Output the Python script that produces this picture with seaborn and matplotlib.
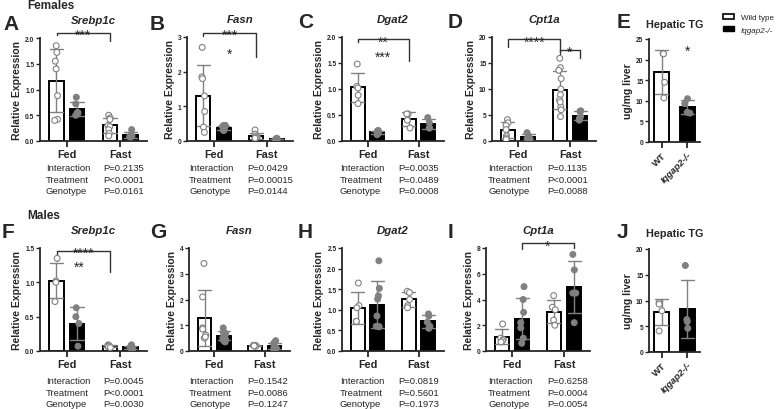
import numpy as np
import pandas as pd
import matplotlib
matplotlib.use("Agg")
import matplotlib.pyplot as plt
from matplotlib.patches import Patch
import seaborn as sns

# ---- Females: relative expression, individual animals ----
srebp_f_fed_wt = [1.85, 1.72, 1.55, 1.40, 0.88, 0.42, 0.40]
srebp_f_fed_ko = [0.85, 0.72, 0.55, 0.50, 0.52, 0.55]
srebp_f_fast_wt = [0.50, 0.45, 0.42, 0.30, 0.28, 0.22, 0.15, 0.10]
srebp_f_fast_ko = [0.22, 0.12, 0.08, 0.08, 0.10]

fasn_f_fed_wt = [2.70, 1.85, 1.80, 1.30, 0.85, 0.40, 0.25]
fasn_f_fed_ko = [0.45, 0.45, 0.42, 0.40, 0.38, 0.35, 0.32, 0.30, 0.33]
fasn_f_fast_wt = [0.32, 0.20, 0.15, 0.12, 0.10, 0.08, 0.08]
fasn_f_fast_ko = [0.08, 0.06, 0.05, 0.04, 0.03]

dgat2_f_fed_wt = [1.48, 1.05, 1.02, 0.88, 0.72]
dgat2_f_fed_ko = [0.20, 0.18, 0.15, 0.12, 0.20, 0.17]
dgat2_f_fast_wt = [0.52, 0.52, 0.40, 0.25]
dgat2_f_fast_ko = [0.45, 0.35, 0.25, 0.25]

cpt1a_f_fed_wt = [4.1, 3.5, 3.0, 2.2, 1.0, 0.6, 0.3]
cpt1a_f_fed_ko = [1.6, 1.0, 0.5, 0.4, 0.3]
cpt1a_f_fast_wt = [15.9, 14.1, 13.6, 12.0, 10.0, 8.9, 7.9, 6.6, 4.7, 7.5, 6.0]
cpt1a_f_fast_ko = [5.8, 5.7, 4.7, 4.0, 4.3]

tg_f_wt = [21.5, 21.4, 14.5, 10.7]
tg_f_ko = [10.5, 9.3, 7.2, 7.0]

# ---- Males ----
srebp_m_fed_wt = [1.35, 1.02, 1.00, 0.72]
srebp_m_fed_ko = [0.63, 0.50, 0.40, 0.07]
srebp_m_fast_wt = [0.09, 0.08, 0.07, 0.06, 0.05]
srebp_m_fast_ko = [0.09, 0.07, 0.05, 0.04, 0.03]

fasn_m_fed_wt = [3.40, 2.10, 0.90, 0.85, 0.62, 0.50, 0.55]
fasn_m_fed_ko = [0.90, 0.72, 0.70, 0.65, 0.60, 0.50, 0.45, 0.40, 0.35]
fasn_m_fast_wt = [0.22, 0.22, 0.20, 0.18, 0.20]
fasn_m_fast_ko = [0.40, 0.30, 0.20, 0.15, 0.10, 0.08, 0.12]

dgat2_m_fed_wt = [1.65, 1.10, 1.05, 0.72, 0.72]
dgat2_m_fed_ko = [2.19, 1.52, 1.34, 1.26, 0.85, 0.59, 0.59, 0.60]
dgat2_m_fast_wt = [1.45, 1.42, 1.25, 1.10, 1.05]
dgat2_m_fast_ko = [0.90, 0.85, 0.70, 0.60, 0.55]

cpt1a_m_fed_wt = [2.1, 1.0, 0.9, 0.8, 0.7]
cpt1a_m_fed_ko = [5.0, 4.0, 3.0, 2.2, 1.8, 1.0, 0.6]
cpt1a_m_fast_wt = [4.3, 3.4, 3.2, 2.4, 2.0]
cpt1a_m_fast_ko = [7.5, 6.3, 4.5, 4.5, 2.2]

tg_m_wt = [9.6, 9.3, 8.0, 4.1]
tg_m_ko = [16.8, 6.3, 5.9, 4.6]

# two-way ANOVA results printed under each panel
stats_labels = ["Interaction", "Treatment", "Genotype"]
stats_srebp_f = ["P=0.2135", "P<0.0001", "P=0.0161"]
stats_fasn_f = ["P=0.0429", "P=0.00015", "P=0.0144"]
stats_dgat2_f = ["P=0.0035", "P=0.0489", "P=0.0008"]
stats_cpt1a_f = ["P=0.1135", "P<0.0001", "P=0.0088"]
stats_srebp_m = ["P=0.0045", "P<0.0001", "P=0.0030"]
stats_fasn_m = ["P=0.1542", "P=0.0086", "P=0.1247"]
stats_dgat2_m = ["P=0.0819", "P=0.5601", "P=0.1973"]
stats_cpt1a_m = ["P=0.6258", "P=0.0004", "P=0.0054"]

conds = ["Fed", "Fast"]
genos = ["WT", "KO"]
tg_labels = ["WT", "Iqgap2-/-"]

sns.set_style("ticks")
plt.rcParams["font.family"] = ["Liberation Sans", "DejaVu Sans"]
plt.rcParams["axes.linewidth"] = 1.3
np.random.seed(3)  # jitter of the dots only

W, H = 777, 410
fig = plt.figure(figsize=(W / 100, H / 100), dpi=100)
fig.patch.set_facecolor("white")

DOT = "#808080"


def px_axes(left, top, width, height):
    return fig.add_axes([left / W, 1 - (top + height) / H, width / W, height / H])


def gene_frame(fed_wt, fed_ko, fast_wt, fast_ko):
    parts = []
    for cond, geno, vals in [("Fed", "WT", fed_wt), ("Fed", "KO", fed_ko),
                             ("Fast", "WT", fast_wt), ("Fast", "KO", fast_ko)]:
        parts.append(pd.DataFrame({"cond": cond, "geno": geno, "value": vals}))
    return pd.concat(parts, ignore_index=True)


def style_axis(ax, ymax, step, fmt, ylabel):
    ticks = np.arange(0, ymax + step / 2, step)
    ax.set_ylim(0, ymax)
    ax.set_yticks(ticks)
    ax.set_yticklabels([fmt.format(t) for t in ticks], fontsize=4.8, fontweight="bold")
    ax.set_ylabel(ylabel, fontsize=7.5, fontweight="bold", labelpad=2)
    ax.set_xlabel("")
    ax.tick_params(axis="y", length=3, width=1, pad=1)
    ax.tick_params(axis="x", length=4, width=1.3, pad=2)
    sns.despine(ax=ax)


def recolor_ko_errors(ax, is_ko):
    for line in ax.lines:
        if is_ko(np.mean(line.get_xdata())):
            line.set_color("#3a3a3a")


def gene_panel(box, frame, ymax, step, fmt, title):
    ax = px_axes(*box)
    sns.barplot(data=frame, x="cond", y="value", hue="geno", order=conds, hue_order=genos,
                palette={"WT": "white", "KO": "black"}, edgecolor="black", linewidth=1.4,
                width=0.77, gap=0.3, errorbar="sd", capsize=0.5,
                err_kws={"color": DOT, "linewidth": 1}, legend=False, ax=ax)
    recolor_ko_errors(ax, lambda x: x - np.round(x) > 0)
    sns.stripplot(data=frame, x="cond", y="value", hue="geno", order=conds, hue_order=genos,
                  palette={"WT": "white", "KO": DOT}, edgecolor=DOT, linewidth=0.8,
                  size=4.2, dodge=True, jitter=0.07, legend=False, ax=ax)
    style_axis(ax, ymax, step, fmt, "Relative Expression")
    ax.set_xlim(-0.5, 1.5)
    for lbl in ax.get_xticklabels():
        lbl.set_fontsize(7.8)
        lbl.set_fontweight("bold")
    ax.set_title(title, fontsize=8.2, fontweight="bold", fontstyle="italic", pad=10.5)
    return ax


def tg_panel(box, wt, ko, ymax):
    frame = pd.concat([pd.DataFrame({"geno": tg_labels[0], "value": wt}),
                       pd.DataFrame({"geno": tg_labels[1], "value": ko})], ignore_index=True)
    ax = px_axes(*box)
    sns.barplot(data=frame, x="geno", y="value", hue="geno", order=tg_labels,
                palette={tg_labels[0]: "white", tg_labels[1]: "black"}, edgecolor="black",
                linewidth=1.4, width=0.6, errorbar="sd", capsize=0.5,
                err_kws={"color": DOT, "linewidth": 1}, legend=False, ax=ax)
    recolor_ko_errors(ax, lambda x: x > 0.5)
    sns.stripplot(data=frame, x="geno", y="value", hue="geno", order=tg_labels,
                  palette={tg_labels[0]: "white", tg_labels[1]: DOT}, edgecolor=DOT,
                  linewidth=0.8, size=4.2, jitter=0.12, legend=False, ax=ax)
    style_axis(ax, ymax, 5, "{:.0f}", "ug/mg liver")
    ax.set_xlim(-0.5, 1.5)
    ax.set_xticks([0, 1])
    ax.set_xticklabels(tg_labels, rotation=45, ha="right", rotation_mode="anchor",
                       fontsize=6.8, fontweight="bold")
    ax.get_xticklabels()[1].set_fontstyle("italic")
    ax.set_title("Hepatic TG", fontsize=7.8, fontweight="bold", pad=9)
    return ax


def bracket(ax, x1, x2, y, drop1, drop2, stars):
    ax.plot([x1, x1, x2, x2], [y - drop1, y, y, y - drop2], color="#333333", lw=1, clip_on=False)
    ax.annotate(stars, xy=((x1 + x2) / 2, y), xytext=(0, -4.5), textcoords="offset points",
                ha="center", va="baseline", fontsize=10, annotation_clip=False)


def star(ax, x, y, stars):
    ax.annotate(stars, xy=(x, y), xytext=(0, -6), textcoords="offset points",
                ha="center", va="baseline", fontsize=10, annotation_clip=False)


def stats_block(x_label, x_val, y_top, values):
    for i, (lab, val) in enumerate(zip(stats_labels, values)):
        y = 1 - (y_top + i * 11.5) / H
        fig.text(x_label / W, y, lab, fontsize=6.8, va="center")
        fig.text(x_val / W, y, val, fontsize=6.8, va="center")


# ---- Females row ----
ax = gene_panel((40, 39, 107, 103),
                gene_frame(srebp_f_fed_wt, srebp_f_fed_ko, srebp_f_fast_wt, srebp_f_fast_ko),
                2.0, 0.5, "{:.1f}", "Srebp1c")
bracket(ax, -0.19, 0.81, 2.1, 0.05, 0.15, "***")

ax = gene_panel((187, 38, 106, 104),
                gene_frame(fasn_f_fed_wt, fasn_f_fed_ko, fasn_f_fast_wt, fasn_f_fast_ko),
                3, 1, "{:.0f}", "Fasn")
bracket(ax, -0.19, 0.81, 3.12, 0.08, 0.69, "***")
star(ax, 0.31, 2.65, "*")

ax = gene_panel((342, 38, 102, 104),
                gene_frame(dgat2_f_fed_wt, dgat2_f_fed_ko, dgat2_f_fast_wt, dgat2_f_fast_ko),
                2.0, 0.5, "{:.1f}", "Dgat2")
bracket(ax, -0.19, 0.81, 1.96, 0.06, 0.42, "**")
star(ax, 0.31, 1.71, "***")

ax = gene_panel((492, 38, 104, 104),
                gene_frame(cpt1a_f_fed_wt, cpt1a_f_fed_ko, cpt1a_f_fast_wt, cpt1a_f_fast_ko),
                20, 5, "{:.0f}", "Cpt1a")
bracket(ax, -0.19, 0.81, 19.6, 1.6, 2.3, "****")
bracket(ax, 0.81, 1.19, 17.5, 0.8, 1.5, "*")

ax = tg_panel((649, 40, 51, 103), tg_f_wt, tg_f_ko, 25)
star(ax, 1, 23.3, "*")

# ---- Males row ----
ax = gene_panel((40, 249, 107, 103),
                gene_frame(srebp_m_fed_wt, srebp_m_fed_ko, srebp_m_fast_wt, srebp_m_fast_ko),
                1.5, 0.5, "{:.1f}", "Srebp1c")
bracket(ax, -0.19, 0.81, 1.46, 0.15, 0.31, "****")
star(ax, 0.23, 1.29, "**")

ax = gene_panel((189, 249, 101, 103),
                gene_frame(fasn_m_fed_wt, fasn_m_fed_ko, fasn_m_fast_wt, fasn_m_fast_ko),
                4, 1, "{:.0f}", "Fasn")

ax = gene_panel((342, 249, 102, 103),
                gene_frame(dgat2_m_fed_wt, dgat2_m_fed_ko, dgat2_m_fast_wt, dgat2_m_fast_ko),
                2.5, 0.5, "{:.1f}", "Dgat2")

ax = gene_panel((486, 249, 104, 103),
                gene_frame(cpt1a_m_fed_wt, cpt1a_m_fed_ko, cpt1a_m_fast_wt, cpt1a_m_fast_ko),
                8, 2, "{:.0f}", "Cpt1a")
bracket(ax, 0.19, 1.19, 8.37, 0.47, 0.37, "*")

tg_panel((649, 250, 51, 103), tg_m_wt, tg_m_ko, 20)

# ---- ANOVA text ----
for (xl, xv), st_f, st_m in zip([(46, 103), (189, 247), (340, 398), (488, 547)],
                                [stats_srebp_f, stats_fasn_f, stats_dgat2_f, stats_cpt1a_f],
                                [stats_srebp_m, stats_fasn_m, stats_dgat2_m, stats_cpt1a_m]):
    stats_block(xl, xv, 169, st_f)
    stats_block(xl, xv, 382, st_m)

# ---- panel letters and section headers ----
for letter, x, y in [("A", 3, 25), ("B", 150, 25), ("C", 298, 23), ("D", 448, 23), ("E", 617, 23),
                     ("F", 2, 233), ("G", 150, 233), ("H", 298, 233), ("I", 448, 233), ("J", 617, 233)]:
    fig.text(x / W, 1 - y / H, letter, fontsize=15, fontweight="bold", va="center", ha="left")
fig.text(27 / W, 1 - 6 / H, "Females", fontsize=8.5, fontweight="bold", va="center")
fig.text(27 / W, 1 - 216 / H, "Males", fontsize=8.5, fontweight="bold", va="center")

leg = fig.legend(handles=[Patch(facecolor="white", edgecolor="black", linewidth=1.2),
                          Patch(facecolor="black", edgecolor="black")],
                 labels=["Wild type", "Iqgap2-/-"], loc="upper left",
                 bbox_to_anchor=(723 / W, 1 - 15 / H), frameon=False, fontsize=5.8,
                 handlelength=1.37, handleheight=0.62, labelspacing=0.6,
                 handletextpad=0.85, borderpad=0, borderaxespad=0)
leg.get_texts()[1].set_fontstyle("italic")

fig.savefig("out.png", dpi=100, facecolor="white")
